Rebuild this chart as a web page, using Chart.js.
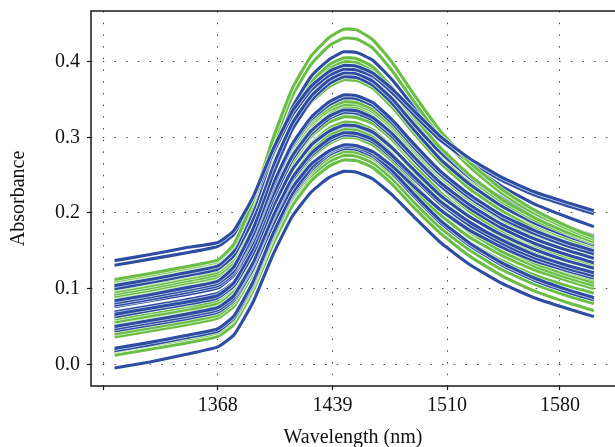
<!DOCTYPE html>
<html><head><meta charset="utf-8">
<script src="https://cdn.jsdelivr.net/npm/chart.js@4/dist/chart.umd.min.js"></script>
<style>html,body{margin:0;padding:0;background:#fff}canvas{display:block}</style>
</head><body>
<canvas id="c" width="615" height="447"></canvas>
<script>
// Wavelength grid (nm) shared by every spectrum
const wavelengths = [1304,1326,1348,1368,1378,1390,1402,1414,1426,1437,1446,1454,1464,1476,1490,1506,1524,1544,1564,1584,1601];
const xTicks = [1297,1368,1439,1510,1580];
const yTicks = [0,0.1,0.2,0.3,0.4];

// Blue spectra (absorbance)
const b01 = [.137,.145,.154,.161,.177,.222,.283,.334,.368,.387,.395,.394,.385,.364,.334,.301,.272,.247,.228,.214,.203];
const b02 = [.131,.139,.147,.156,.172,.217,.278,.329,.363,.382,.390,.389,.381,.359,.329,.296,.268,.243,.224,.210,.199];
const b03 = [.104,.112,.121,.130,.150,.204,.277,.339,.381,.403,.413,.412,.402,.376,.339,.300,.265,.235,.212,.195,.182];
const b04 = [.100,.108,.117,.126,.144,.193,.261,.318,.355,.376,.385,.384,.374,.351,.316,.280,.247,.220,.198,.182,.170];
const b05 = [.084,.092,.101,.110,.129,.180,.250,.310,.349,.371,.380,.379,.369,.345,.309,.271,.238,.209,.187,.170,.158];
const b06 = [.081,.089,.098,.107,.124,.172,.237,.291,.327,.347,.356,.355,.346,.323,.290,.255,.224,.197,.177,.161,.150];
const b07 = [.078,.086,.095,.104,.121,.169,.233,.288,.324,.343,.352,.351,.342,.319,.286,.251,.220,.193,.173,.157,.146];
const b08 = [.076,.084,.092,.101,.118,.162,.223,.275,.309,.328,.336,.335,.326,.305,.273,.240,.211,.185,.166,.151,.140];
const b09 = [.066,.074,.082,.091,.108,.154,.217,.270,.305,.325,.333,.332,.323,.301,.269,.236,.206,.180,.160,.145,.134];
const b10 = [.063,.071,.079,.088,.104,.147,.207,.257,.290,.308,.316,.315,.307,.286,.256,.223,.195,.171,.152,.137,.127];
const b11 = [.050,.058,.066,.075,.091,.135,.195,.246,.279,.298,.306,.305,.297,.276,.247,.215,.188,.164,.145,.131,.121];
const b12 = [.047,.055,.063,.072,.088,.132,.192,.243,.276,.295,.303,.302,.294,.273,.244,.212,.184,.160,.141,.127,.117];
const b13 = [.044,.052,.060,.069,.085,.127,.184,.233,.265,.282,.290,.289,.281,.262,.234,.204,.177,.155,.137,.124,.114];
const b14 = [.021,.029,.038,.047,.064,.110,.172,.225,.260,.280,.288,.287,.278,.256,.224,.190,.160,.134,.114,.099,.088];
const b15 = [.018,.026,.035,.044,.061,.107,.169,.222,.257,.277,.285,.284,.275,.253,.221,.187,.157,.131,.111,.096,.085];
const b16 = [-.005,.003,.013,.023,.039,.083,.144,.195,.228,.247,.255,.254,.245,.224,.194,.161,.132,.107,.088,.074,.063];
const b17 = [.091,.099,.108,.117,.136,.188,.259,.319,.359,.380,.390,.389,.379,.354,.317,.279,.245,.215,.193,.176,.163];
const b18 = [.069,.077,.085,.094,.109,.151,.208,.257,.289,.306,.314,.313,.305,.285,.255,.224,.196,.172,.154,.140,.130];

// Green spectra (absorbance)
const g01 = [.112,.120,.129,.138,.159,.217,.297,.364,.408,.432,.443,.442,.429,.399,.355,.308,.267,.231,.204,.183,.168];
const g02 = [.110,.118,.127,.136,.157,.213,.289,.354,.397,.421,.431,.430,.418,.388,.346,.301,.261,.226,.200,.180,.165];
const g03 = [.108,.116,.124,.133,.152,.204,.274,.334,.374,.396,.405,.404,.393,.366,.327,.286,.250,.218,.194,.175,.162];
const g04 = [.105,.113,.122,.131,.150,.201,.271,.330,.369,.391,.400,.399,.388,.362,.323,.282,.246,.215,.191,.173,.160];
const g05 = [.102,.110,.119,.128,.147,.198,.268,.327,.366,.388,.397,.396,.385,.359,.320,.279,.243,.212,.188,.170,.157];
const g06 = [.099,.107,.116,.125,.144,.195,.265,.324,.363,.385,.394,.393,.382,.356,.317,.276,.240,.209,.185,.167,.154];
const g07 = [.096,.104,.113,.122,.140,.188,.254,.310,.347,.367,.376,.375,.365,.340,.304,.266,.232,.203,.180,.163,.151];
const g08 = [.093,.101,.110,.119,.135,.178,.238,.288,.321,.339,.347,.346,.337,.315,.283,.250,.220,.194,.174,.159,.148];
const g09 = [.090,.098,.107,.116,.132,.175,.235,.285,.318,.336,.343,.343,.334,.312,.280,.247,.217,.191,.171,.156,.145];
const g10 = [.087,.095,.104,.113,.128,.169,.224,.271,.302,.320,.327,.326,.318,.297,.268,.236,.209,.185,.166,.152,.142];
const g11 = [.063,.071,.079,.088,.106,.155,.222,.278,.315,.336,.345,.344,.334,.311,.276,.240,.207,.180,.158,.142,.130];
const g12 = [.060,.068,.076,.085,.103,.151,.218,.274,.311,.331,.340,.339,.329,.306,.271,.235,.202,.175,.153,.137,.125];
const g13 = [.056,.064,.072,.081,.098,.146,.211,.265,.301,.321,.330,.329,.320,.296,.263,.227,.196,.168,.147,.132,.120];
const g14 = [.052,.060,.068,.077,.094,.140,.203,.257,.292,.312,.320,.319,.310,.287,.253,.218,.187,.160,.139,.123,.112];
const g15 = [.045,.053,.061,.070,.087,.132,.195,.248,.282,.302,.310,.309,.300,.278,.245,.211,.181,.155,.134,.119,.108];
const g16 = [.040,.048,.056,.065,.082,.126,.187,.239,.273,.292,.300,.299,.290,.269,.237,.204,.175,.149,.130,.115,.104];
const g17 = [.036,.044,.052,.061,.077,.121,.180,.231,.264,.282,.290,.289,.281,.260,.229,.197,.168,.144,.125,.111,.100];
const g18 = [.017,.025,.033,.042,.059,.104,.166,.219,.254,.273,.281,.280,.272,.251,.221,.189,.161,.137,.118,.104,.094];
const g19 = [.012,.020,.028,.037,.053,.098,.158,.209,.243,.262,.270,.269,.260,.238,.206,.173,.143,.117,.097,.082,.071];
const g20 = [.015,.023,.031,.040,.057,.101,.163,.215,.249,.268,.276,.275,.266,.245,.213,.180,.151,.125,.106,.091,.080];

const blueSeries = [b01,b02,b03,b04,b05,b06,b07,b08,b09,b10,b11,b12,b13,b14,b15,b16,b17,b18];
const greenSeries = [g01,g02,g03,g04,g05,g06,g07,g08,g09,g10,g11,g12,g13,g14,g15,g16,g17,g18,g19,g20];

const BLUE = '#2C4DA2';
const GREEN = '#6BBE45';
const FONT = {family: '"Liberation Serif", "DejaVu Serif", serif', size: 20};

// Chart.js paints dataset 0 last (on top), so each colour line is pushed
// before its white halo: the halo is painted first, the colour over it.
const datasets = [];
function addSeries(arr, color) {
  const pts = arr.map((y, i) => ({x: wavelengths[i], y: y}));
  datasets.push({data: pts, borderColor: color, borderWidth: 3.1, pointRadius: 0, tension: 0.15, fill: false});
  datasets.push({data: pts, borderColor: 'rgba(255,255,255,0.75)', borderWidth: 4.6, pointRadius: 0, tension: 0.15, fill: false});
}
const n = Math.max(blueSeries.length, greenSeries.length);
for (let i = 0; i < n; i++) {
  if (blueSeries[i]) addSeries(blueSeries[i], BLUE);
  if (greenSeries[i]) addSeries(greenSeries[i], GREEN);
}

const framePlugin = {
  id: 'frame',
  afterDraw(chart) {
    const {ctx, chartArea: a} = chart;
    ctx.save();
    ctx.strokeStyle = '#1a1a1a';
    ctx.lineWidth = 1.5;
    ctx.beginPath();
    ctx.moveTo(a.right + 2, a.top);
    ctx.lineTo(a.left, a.top);
    ctx.lineTo(a.left, a.bottom);
    ctx.lineTo(a.right + 2, a.bottom);
    ctx.stroke();
    ctx.restore();
  }
};

new Chart(document.getElementById('c'), {
  type: 'line',
  data: {datasets: datasets},
  plugins: [framePlugin],
  options: {
    responsive: false,
    animation: false,
    devicePixelRatio: 1,
    layout: {padding: {top: 11, right: 0, left: 0, bottom: 0}},
    plugins: {legend: {display: false}, tooltip: {enabled: false}},
    scales: {
      x: {
        type: 'linear', min: 1289.4, max: 1614.1,
        afterBuildTicks: s => { s.ticks = xTicks.map(v => ({value: v})); },
        afterFit: s => { s.height = 61; s.paddingLeft = 0; s.paddingRight = 0; },
        ticks: {callback: v => v === 1297 ? '' : String(v), font: FONT, color: '#111', padding: 4, maxRotation: 0, autoSkip: false},
        grid: {color: '#444', lineWidth: 1, drawTicks: true, tickLength: 4, tickColor: '#111', tickWidth: 1.2, tickBorderDash: []},
        border: {display: false, dash: [1.5, 10.2]},
        title: {display: true, text: 'Wavelength (nm)', font: FONT, color: '#111', padding: {top: 0, bottom: -3}}
      },
      y: {
        min: -0.0287, max: 0.467,
        afterBuildTicks: s => { s.ticks = yTicks.map(v => ({value: v})); },
        afterFit: s => { s.width = 91; s.paddingTop = 0; s.paddingBottom = 0; },
        ticks: {callback: v => v.toFixed(1), font: FONT, color: '#111', padding: 7},
        grid: {color: '#444', lineWidth: 1, drawTicks: true, tickLength: 4, tickColor: '#111', tickWidth: 1.2, tickBorderDash: []},
        border: {display: false, dash: [1.5, 10.2]},
        title: {display: true, text: 'Absorbance', font: FONT, color: '#111', padding: {top: 7, bottom: 0}}
      }
    }
  }
});
</script>
</body></html>
